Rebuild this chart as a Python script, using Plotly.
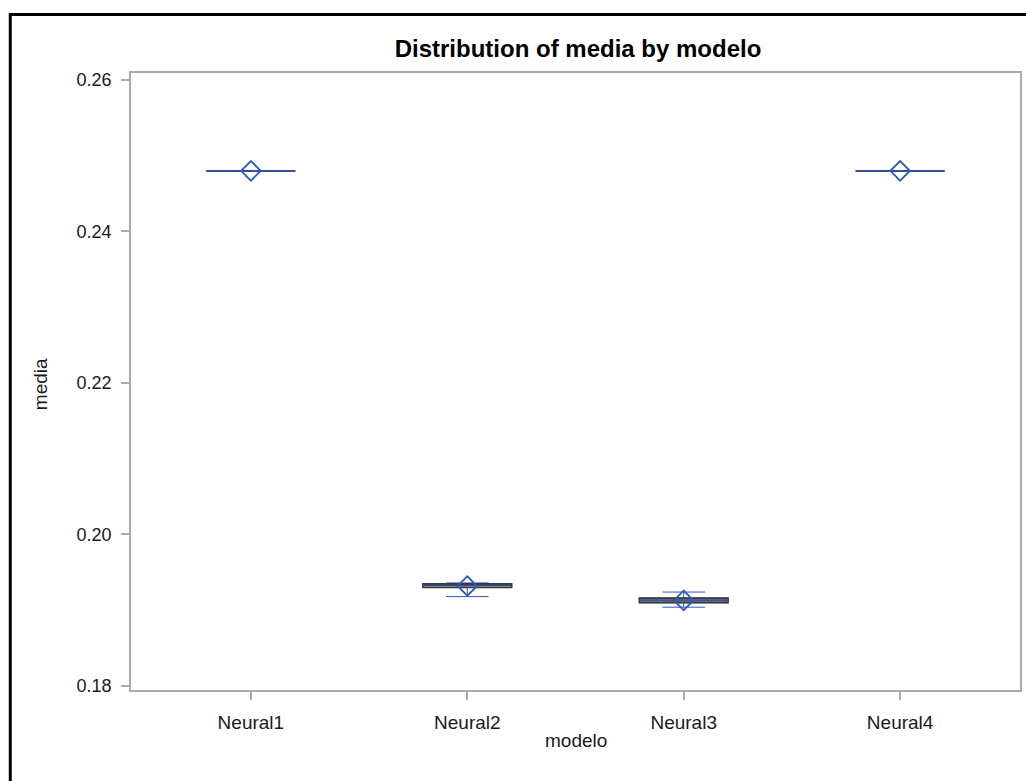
import plotly.graph_objects as go

# ---- data ----
models = ["Neural1", "Neural2", "Neural3", "Neural4"]
lower  = [0.2480, 0.1918, 0.1904, 0.2480]
q1     = [0.2480, 0.1930, 0.1910, 0.2480]
median = [0.2480, 0.1933, 0.1913, 0.2480]
q3     = [0.2480, 0.1935, 0.1916, 0.2480]
upper  = [0.2480, 0.1936, 0.1924, 0.2480]
means  = [0.2480, 0.1932, 0.1913, 0.2480]
ytick_vals = [0.18, 0.20, 0.22, 0.24, 0.26]
ytick_text = ["0.18", "0.20", "0.22", "0.24", "0.26"]

BLUE = "#2E59B8"
FONT = "Liberation Sans"
TXT = "#1a1a1a"

W, H = 1026, 781
# plot area in reference pixels
PL, PR, PT, PB = 131, 1022, 73, 690
L, T, R, B = PL, PT, W - PR, H - PB
pw, ph = PR - PL, PB - PT

def px_x(x):
    return (x - PL) / pw

def px_y(y):
    return (PB - y) / ph

fig = go.Figure()
common = dict(x=models, width=0.41, whiskerwidth=0.48, boxpoints=False,
              showlegend=False, hoverinfo="skip")

# whiskers in blue (drawn first, underneath)
fig.add_trace(go.Box(q1=q1, median=median, q3=q3,
                     lowerfence=lower, upperfence=upper,
                     line=dict(color=BLUE, width=1),
                     fillcolor="rgba(0,0,0,0)", **common))
# box body: dark outline, gray fill
fig.add_trace(go.Box(q1=q1, median=median, q3=q3,
                     lowerfence=q1, upperfence=q3,
                     line=dict(color="#3a3a3a", width=1.6),
                     fillcolor="#8d929b", **common))
# median line in blue
fig.add_trace(go.Box(q1=median, median=median, q3=median,
                     lowerfence=median, upperfence=median,
                     line=dict(color=BLUE, width=1.2),
                     fillcolor="rgba(0,0,0,0)", **common))
# mean markers
fig.add_trace(go.Scatter(
    x=models, y=means, mode="markers",
    marker=dict(symbol="diamond-open", size=15, color=BLUE,
                line=dict(color=BLUE, width=1.8)),
    showlegend=False, hoverinfo="skip",
))

fig.update_layout(
    width=W, height=H,
    margin=dict(l=L, r=R, t=T, b=B),
    paper_bgcolor="white", plot_bgcolor="white",
    boxmode="overlay",
    font=dict(family=FONT, size=18, color=TXT),
    title=dict(text="<b>Distribution of media by modelo</b>",
               x=578 / W, xanchor="center",
               y=1 - 49 / H, yanchor="middle",
               font=dict(family=FONT, size=24, color="#000000")),
    xaxis=dict(
        type="category", range=[-0.554, 3.554],
        showgrid=False, zeroline=False,
        showline=True, linecolor="#a8abae", linewidth=1.5, mirror=True,
        ticks="outside", ticklen=8, tickcolor="#a8abae", tickwidth=1.5,
        tickfont=dict(family=FONT, size=19, color=TXT),
        ticklabelstandoff=6,
    ),
    yaxis=dict(
        range=[0.17947, 0.26092],
        tickvals=ytick_vals, ticktext=ytick_text,
        showgrid=False, zeroline=False,
        showline=True, linecolor="#a8abae", linewidth=1.5, mirror=True,
        ticks="outside", ticklen=8, tickcolor="#a8abae", tickwidth=1.5,
        tickfont=dict(family=FONT, size=18, color=TXT),
        ticklabelstandoff=6,
    ),
    annotations=[
        dict(text="media", x=px_x(41), y=px_y(384), xref="paper", yref="paper",
             showarrow=False, textangle=-90, xanchor="center", yanchor="middle",
             font=dict(family=FONT, size=19, color=TXT)),
        dict(text="modelo", x=px_x(577), y=px_y(740), xref="paper", yref="paper",
             showarrow=False, xanchor="center", yanchor="middle",
             font=dict(family=FONT, size=19, color=TXT)),
    ],
    shapes=[
        dict(type="rect", xref="paper", yref="paper",
             x0=px_x(10), x1=px_x(1060), y0=px_y(820), y1=px_y(14.5),
             line=dict(color="#000000", width=3), fillcolor="rgba(0,0,0,0)",
             layer="above"),
    ],
)

fig.write_html(
    "out.html",
    config={"displayModeBar": False},
    post_script="document.body.style.margin='0';document.body.style.overflow='hidden';",
)
